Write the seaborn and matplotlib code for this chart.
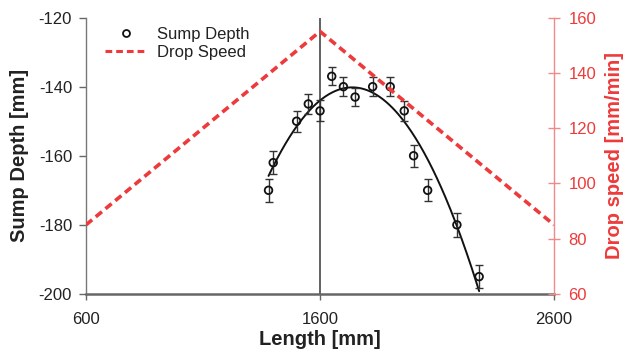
import numpy as np
import pandas as pd
import matplotlib
matplotlib.use("Agg")
import matplotlib.pyplot as plt
import seaborn as sns
from matplotlib.lines import Line2D

# Data
length_mm = [1380, 1400, 1500, 1550, 1600, 1650, 1700, 1750, 1825, 1900, 1960, 2000, 2060, 2185, 2280]
sump_depth = [-170, -162, -150, -145, -147, -137, -140, -143, -140, -140, -147, -160, -170, -180, -195]
sump_err = [3.3, 3.4, 3.0, 3.0, 3.0, 2.6, 2.8, 2.7, 2.7, 2.8, 2.9, 3.2, 3.2, 3.4, 3.4]
speed_length = [600, 1600, 2600]
drop_speed = [85, 155, 85]
x_ticks = [600, 1600, 2600]
y_ticks = [-200, -180, -160, -140, -120]
y2_ticks = [60, 80, 100, 120, 140, 160]

sns.set_style("white")
plt.rcParams['font.family'] = ['Liberation Sans', 'DejaVu Sans']
plt.rcParams['axes.unicode_minus'] = False

RED = "#ee3a3a"
RED_AX = "#f08a8a"
DARK = "#222222"
TICK_FS = 12
LAB_FS = 14.5

fig = plt.figure(figsize=(6.26, 3.52), dpi=100)
ax = fig.add_axes([0.1374, 0.165, 0.885 - 0.1374, 0.950 - 0.165])

df = pd.DataFrame({"x": length_mm, "y": sump_depth, "e": sump_err})

# trendline (2nd order polynomial fit of the data)
coef = np.polyfit(df["x"], df["y"], 2)
xf = np.linspace(min(length_mm), max(length_mm), 200)
fit = pd.DataFrame({"x": xf, "y": np.polyval(coef, xf)})
sns.lineplot(data=fit, x="x", y="y", ax=ax, color="#111111", lw=1.4, zorder=3)

ax.errorbar(df["x"], df["y"], yerr=df["e"], fmt="none", ecolor="#333333",
            elinewidth=1.0, capsize=2.7, capthick=1.0, zorder=4)
sns.scatterplot(data=df, x="x", y="y", ax=ax, marker="o", s=30,
                facecolor="none", edgecolor="#111111", linewidth=1.3, zorder=5)

ax.axvline(1600, color="#555555", lw=1.3, zorder=2)

ax.set_xlim(600, 2600)
ax.set_ylim(-200, -120)
ax.set_xticks(x_ticks)
ax.set_yticks(y_ticks)
ax.set_xlabel("Length [mm]", fontsize=LAB_FS, fontweight="bold", color=DARK, labelpad=2)
ax.set_ylabel("Sump Depth [mm]", fontsize=LAB_FS, fontweight="bold", color=DARK, labelpad=7)
ax.tick_params(axis="y", direction="out", length=5, width=1, color="#666666",
               labelsize=TICK_FS, labelcolor=DARK, left=True, pad=5)
ax.tick_params(axis="x", direction="out", length=4, width=1, color="#666666",
               labelsize=TICK_FS, labelcolor=DARK, bottom=True, pad=9)
for s in ["top", "right"]:
    ax.spines[s].set_visible(False)
ax.spines["left"].set_color("#777777")
ax.spines["left"].set_linewidth(1.0)
ax.spines["bottom"].set_color("#666666")
ax.spines["bottom"].set_linewidth(1.8)

ax2 = ax.twinx()
sp = pd.DataFrame({"x": speed_length, "v": drop_speed})
sns.lineplot(data=sp, x="x", y="v", ax=ax2, color=RED, lw=2.6, zorder=6)
ax2.lines[0].set_linestyle((0, (2.2, 1.3)))
ax2.set_ylim(60, 160)
ax2.set_yticks(y2_ticks)
ax2.set_xlim(600, 2600)
ax2.set_ylabel("Drop speed [mm/min]", fontsize=LAB_FS, fontweight="bold", color=RED, labelpad=6)
ax2.tick_params(axis="y", direction="inout", length=9, width=1, color=RED_AX,
                labelsize=TICK_FS, labelcolor=RED, right=True, pad=6)
for s in ["top", "left", "bottom"]:
    ax2.spines[s].set_visible(False)
ax2.spines["right"].set_color(RED_AX)
ax2.spines["right"].set_linewidth(1.0)

handles = [
    Line2D([], [], marker="o", ls="none", markerfacecolor="none",
           markeredgecolor="#111111", markersize=5, markeredgewidth=1.3),
    Line2D([], [], color=RED, lw=2.2, ls=(0, (2.2, 1.3))),
]
ax2.legend(handles, ["Sump Depth", "Drop Speed"], loc="upper left",
           bbox_to_anchor=(0.0406, 0.967), borderaxespad=0, borderpad=0,
           frameon=False, fontsize=TICK_FS,
           handlelength=2.5, handletextpad=0.6, labelspacing=0.17,
           labelcolor=DARK)

fig.savefig("out.png", dpi=100)
